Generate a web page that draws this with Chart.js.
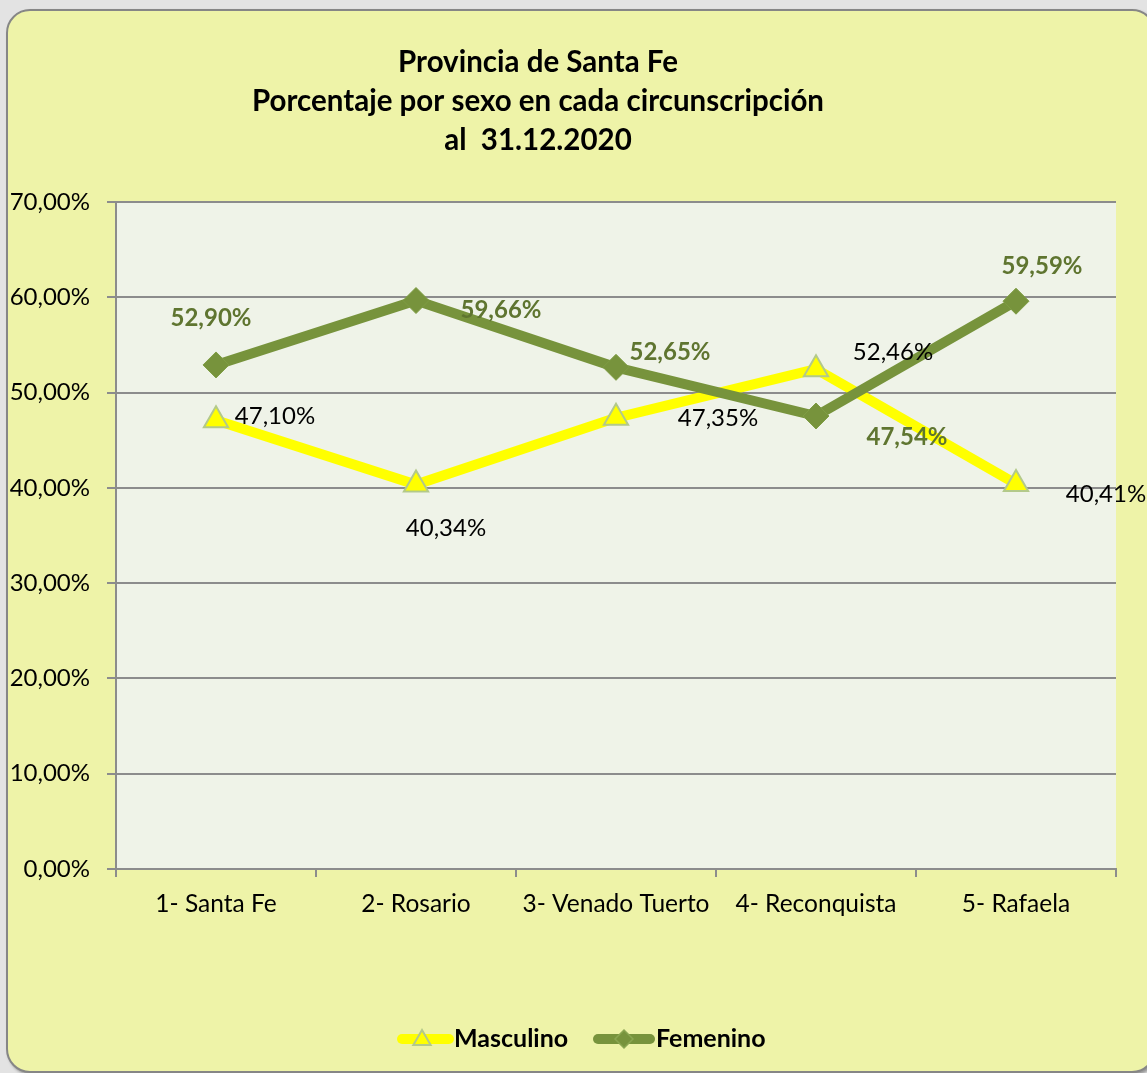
<!DOCTYPE html>
<html>
<head>
<meta charset="utf-8">
<script src="https://cdn.jsdelivr.net/npm/chart.js@4/dist/chart.umd.min.js"></script>
<style>
  body { margin: 0; background: #e3e3e3; }
  .wrap { position: relative; width: 1147px; height: 1073px; overflow: hidden; }
  .frame {
    position: absolute; left: 6px; top: 9px; width: 1146px; height: 1060px;
    background: #eef3a8; border: 2px solid #868686; border-radius: 24px;
    box-shadow: 2px 2px 3px rgba(0,0,0,0.35);
  }
  canvas { position: absolute; left: 0; top: 0; }
</style>
</head>
<body>
<div class="wrap">
  <div class="frame"></div>
  <canvas id="chart" width="1147" height="1073"></canvas>
</div>
<script>
// Data
const categories = ['1- Santa Fe', '2- Rosario', '3- Venado Tuerto', '4- Reconquista', '5- Rafaela'];
const masculino = [47.10, 40.34, 47.35, 52.46, 40.41];
const femenino = [52.90, 59.66, 52.65, 47.54, 59.59];
const titleLines = ['Provincia de Santa Fe', 'Porcentaje por sexo en cada circunscripción', 'al  31.12.2020'];

// Label placement (pixel offset from the marker), like the original sheet
const mascOffsets = [[59, -4], [30, 44], [102, 0], [77, -17], [90, 10]];
const femOffsets = [[-5, -47], [85, 10], [54, -15], [91, 21], [26, -35]];

const FONT = 'Lato, "Open Sans", sans-serif';
const YELLOW = '#ffff00';
const GREEN = '#77933c';
const GREEN_TEXT = '#5f7530';
const PLOT_BG = '#eff3e8';
const GRID = '#8c8c8c';

function pct(v) {
  return v.toFixed(2).replace('.', ',') + '%';
}

// Plot background, value labels, title and legend
const decor = {
  id: 'decor',
  beforeDraw(chart) {
    const { ctx, chartArea: a } = chart;
    ctx.save();
    ctx.fillStyle = PLOT_BG;
    ctx.fillRect(a.left, a.top, a.right - a.left, a.bottom - a.top);
    ctx.restore();
  },
  afterDatasetsDraw(chart) {
    const ctx = chart.ctx;
    ctx.save();
    ctx.textAlign = 'center';
    ctx.textBaseline = 'middle';
    const sets = [
      { idx: 0, offs: mascOffsets, font: '24px ' + FONT, color: '#000' },
      { idx: 1, offs: femOffsets, font: 'bold 24px ' + FONT, color: GREEN_TEXT },
    ];
    sets.forEach((s) => {
      const meta = chart.getDatasetMeta(s.idx);
      const values = chart.data.datasets[s.idx].data;
      ctx.font = s.font;
      ctx.fillStyle = s.color;
      meta.data.forEach((pt, i) => {
        ctx.fillText(pct(values[i]), pt.x + s.offs[i][0], pt.y + s.offs[i][1]);
      });
    });
    ctx.restore();
  },
  afterDraw(chart) {
    const ctx = chart.ctx;
    ctx.save();
    // title
    ctx.fillStyle = '#000';
    ctx.font = 'bold 29.5px ' + FONT;
    ctx.textAlign = 'center';
    ctx.textBaseline = 'middle';
    titleLines.forEach((t, i) => ctx.fillText(t, 538, 62 + i * 39));

    // legend
    const y = 1039;
    ctx.lineCap = 'round';
    ctx.lineWidth = 10;
    ctx.strokeStyle = YELLOW;
    ctx.beginPath(); ctx.moveTo(402, y); ctx.lineTo(449, y); ctx.stroke();
    ctx.fillStyle = YELLOW;
    ctx.strokeStyle = '#b3c98a';
    ctx.lineWidth = 2;
    Chart.helpers.drawPoint(ctx, { pointStyle: 'triangle', radius: 10, rotation: 0, borderWidth: 2 }, 422, y + 1);

    ctx.lineWidth = 10;
    ctx.strokeStyle = GREEN;
    ctx.beginPath(); ctx.moveTo(598, y); ctx.lineTo(650, y); ctx.stroke();
    ctx.fillStyle = GREEN;
    ctx.strokeStyle = '#8aa651';
    ctx.lineWidth = 1.5;
    Chart.helpers.drawPoint(ctx, { pointStyle: 'rectRot', radius: 9, rotation: 0, borderWidth: 1.5 }, 624, y);

    ctx.fillStyle = '#000';
    ctx.font = 'bold 25px ' + FONT;
    ctx.textAlign = 'left';
    ctx.fillText('Masculino', 454, y);
    ctx.fillText('Femenino', 656, y);
    ctx.restore();
  }
};

const chart = new Chart(document.getElementById('chart'), {
  type: 'line',
  data: {
    labels: categories,
    datasets: [
      {
        label: 'Masculino',
        data: masculino,
        order: 1,
        borderColor: YELLOW,
        borderWidth: 10,
        pointStyle: 'triangle',
        pointRadius: 14,
        pointBackgroundColor: YELLOW,
        pointBorderColor: '#b3c98a',
        pointBorderWidth: 2,
        tension: 0,
      },
      {
        label: 'Femenino',
        data: femenino,
        order: 0,
        borderColor: GREEN,
        borderWidth: 10,
        pointStyle: 'rectRot',
        pointRadius: 13,
        pointBackgroundColor: GREEN,
        pointBorderColor: '#7f9d44',
        pointBorderWidth: 1,
        tension: 0,
      },
    ]
  },
  options: {
    responsive: false,
    animation: false,
    layout: { padding: { left: 0, top: 202, right: 31, bottom: 144 } },
    plugins: {
      legend: { display: false },
      title: { display: false },
      tooltip: { enabled: false },
    },
    scales: {
      x: {
        offset: true,
        afterFit: (s) => { s.height = 60; },
        grid: { offset: true, drawOnChartArea: false, drawTicks: true, tickLength: 8, color: GRID, lineWidth: 2 },
        border: { color: GRID, width: 2 },
        ticks: { color: '#000', font: { family: FONT, size: 24.5 }, padding: 12, maxRotation: 0 },
      },
      y: {
        min: 0,
        max: 70,
        afterFit: (s) => { s.width = 116; },
        grid: { color: GRID, lineWidth: 2, tickLength: 9 },
        border: { color: GRID, width: 2 },
        ticks: {
          stepSize: 10,
          color: '#000',
          font: { family: FONT, size: 24 },
          padding: 17,
          callback: (v) => pct(v),
        },
      },
    },
  },
  plugins: [decor],
});
</script>
</body>
</html>
